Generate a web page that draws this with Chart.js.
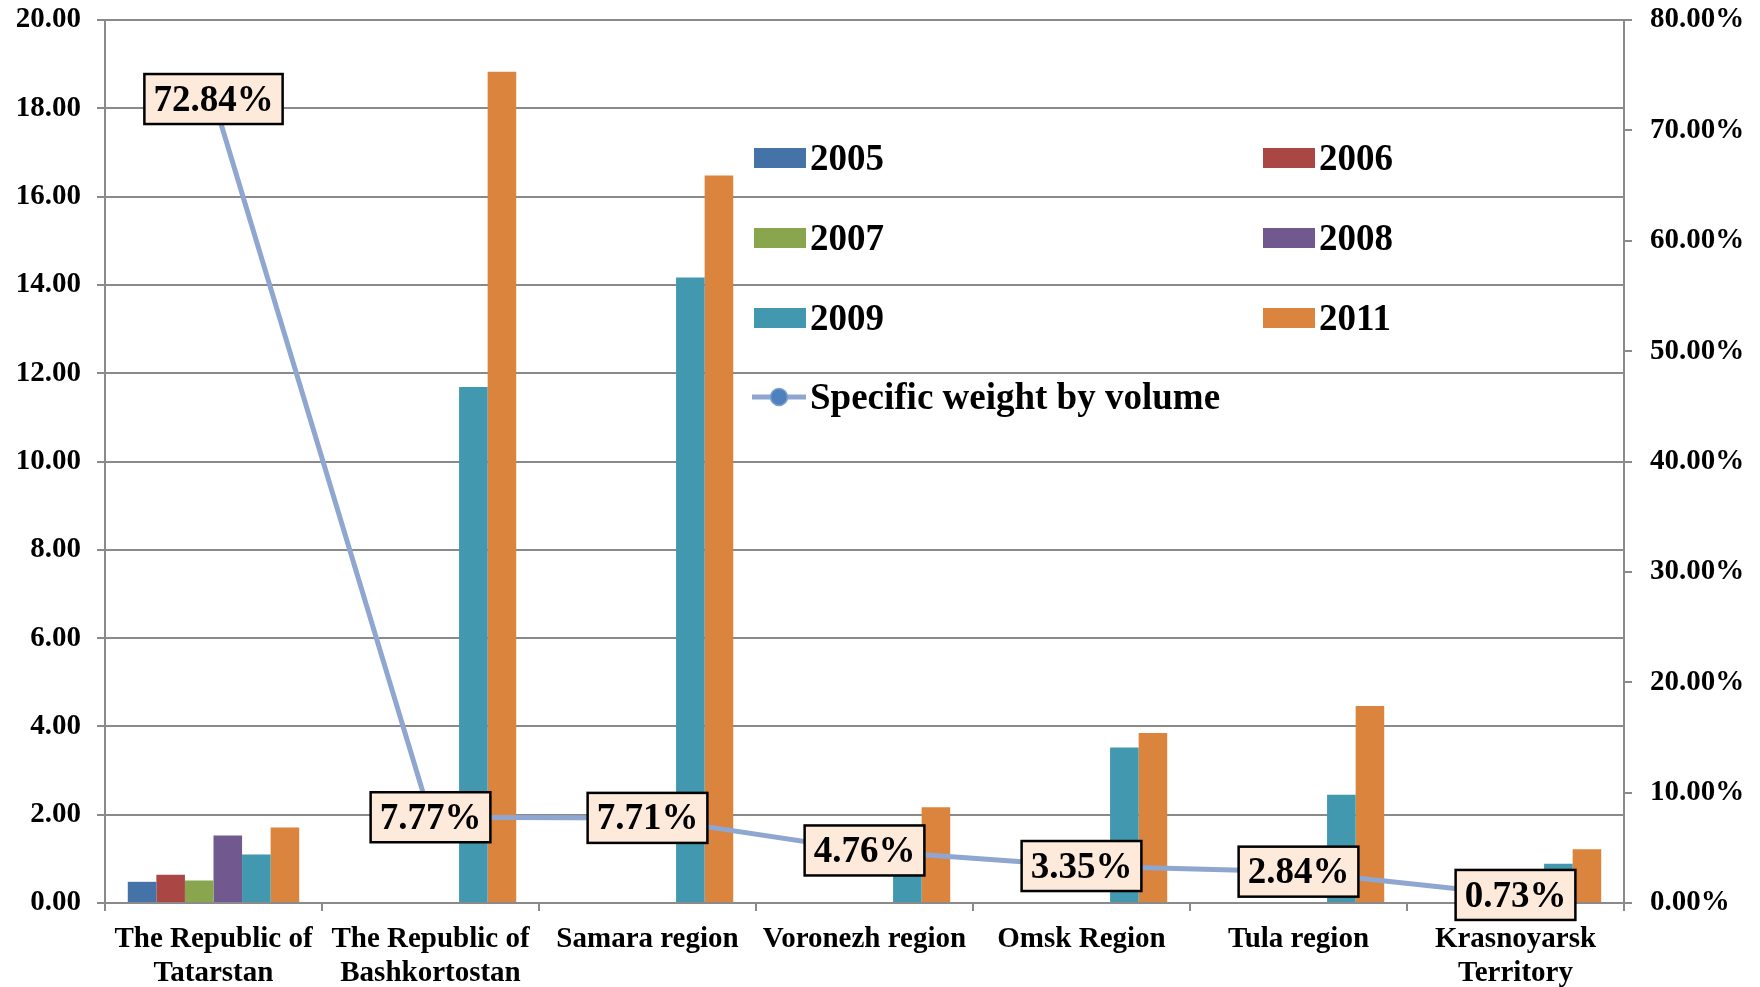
<!DOCTYPE html>
<html><head><meta charset="utf-8">
<script src="https://cdn.jsdelivr.net/npm/chart.js@4"></script>
<style>html,body{margin:0;padding:0;background:#fff}#wrap{width:1760px;height:987px;position:relative}</style>
</head><body><div id="wrap"><canvas id="c"></canvas></div>
<script>
const categories = [["The Republic of","Tatarstan"],["The Republic of","Bashkortostan"],"Samara region","Voronezh region","Omsk Region","Tula region",["Krasnoyarsk","Territory"]];
const seriesLabels = ["2005","2006","2007","2008","2009","2011"];
const v2005 = [0.48, null, null, null, null, null, null];
const v2006 = [0.64, null, null, null, null, null, null];
const v2007 = [0.51, null, null, null, null, null, null];
const v2008 = [1.53, null, null, null, null, null, null];
const v2009 = [1.10, 11.69, 14.17, 1.20, 3.52, 2.45, 0.89];
const v2011 = [1.71, 18.83, 16.48, 2.17, 3.85, 4.46, 1.22];
const lineLabel = "Specific weight by volume";
const specificWeight = [72.84, 7.77, 7.71, 4.76, 3.35, 2.84, 0.73];
const barColors = ["#4572A7","#AA4643","#89A54E","#71588F","#4198AF","#DB843D"];
const lineColor = "#8EA6D0";
const gridColor = "#8A8A8A";
const FONT = '"Liberation Serif","Times New Roman",serif';

const barValues = [v2005, v2006, v2007, v2008, v2009, v2011];
const datasets = barValues.map((vals, i) => ({
  type: 'bar', label: seriesLabels[i], data: vals, backgroundColor: barColors[i],
  yAxisID: 'y', order: 2, categoryPercentage: 0.79, barPercentage: 1.0
}));
datasets.push({
  type: 'line', label: lineLabel, data: specificWeight, yAxisID: 'y2',
  borderColor: lineColor, backgroundColor: '#4F81BD', borderWidth: 5,
  pointRadius: 0, tension: 0, order: 0
});

const legendPlugin = {
  id: 'gridLegend',
  afterDatasetsDraw(chart) {
    const ctx = chart.ctx;
    const cols = [754, 1263], rows = [158, 238, 318, 397];
    ctx.save();
    ctx.font = 'bold 37px ' + FONT;
    ctx.textBaseline = 'middle';
    ctx.textAlign = 'left';
    chart.data.datasets.forEach((ds, i) => {
      const x = cols[i % 2], y = rows[Math.floor(i / 2)];
      if (ds.type === 'bar') {
        ctx.fillStyle = ds.backgroundColor;
        ctx.fillRect(x, y - 10, 52, 20);
      } else {
        ctx.strokeStyle = ds.borderColor; ctx.lineWidth = 5;
        ctx.beginPath(); ctx.moveTo(x - 2, y); ctx.lineTo(x + 52, y); ctx.stroke();
        ctx.beginPath(); ctx.arc(x + 25, y, 8.5, 0, Math.PI * 2);
        ctx.fillStyle = '#4F81BD'; ctx.fill();
        ctx.lineWidth = 1.5; ctx.strokeStyle = '#7F9FCF'; ctx.stroke();
      }
      ctx.fillStyle = '#000';
      ctx.fillText(ds.label, x + 56, y + 2);
    });
    ctx.restore();
  }
};

const labelPlugin = {
  id: 'boxLabels',
  afterDatasetsDraw(chart) {
    const ctx = chart.ctx;
    const idx = chart.data.datasets.findIndex(d => d.type === 'line');
    const meta = chart.getDatasetMeta(idx);
    ctx.save();
    ctx.font = 'bold 37px ' + FONT;
    ctx.textBaseline = 'middle';
    ctx.textAlign = 'center';
    meta.data.forEach((pt, i) => {
      const txt = chart.data.datasets[idx].data[i].toFixed(2) + '%';
      const w = ctx.measureText(txt).width + 18, h = 50;
      ctx.fillStyle = '#FDEADA';
      ctx.fillRect(pt.x - w / 2, pt.y - h / 2, w, h);
      ctx.lineWidth = 2.5; ctx.strokeStyle = '#000';
      ctx.strokeRect(pt.x - w / 2, pt.y - h / 2, w, h);
      ctx.fillStyle = '#000';
      ctx.fillText(txt, pt.x, pt.y + 2);
    });
    ctx.restore();
  }
};

function fixV(w) {
  return function (s) { s.width = w; s.paddingTop = 0; s.paddingBottom = 0; };
}

new Chart(document.getElementById('c'), {
  data: { labels: categories, datasets },
  options: {
    responsive: true, maintainAspectRatio: false, animation: false,
    layout: { padding: { top: 20, left: 0, right: 0, bottom: 0 } },
    plugins: { legend: { display: false }, tooltip: { enabled: false } },
    scales: {
      x: {
        offset: true,
        grid: { offset: true, drawOnChartArea: false, drawTicks: true, tickLength: 8, color: gridColor, lineWidth: 2 },
        border: { display: true, color: gridColor, width: 2 },
        ticks: { color: '#000', padding: 12, maxRotation: 0, autoSkip: false, font: { family: FONT, weight: 'bold', size: 29, lineHeight: 1.17 } },
        afterFit(s) { s.height = 84; s.paddingLeft = 0; s.paddingRight = 0; }
      },
      y: {
        position: 'left', min: 0, max: 20,
        grid: { color: gridColor, lineWidth: 2, tickLength: 8 },
        border: { display: true, color: gridColor, width: 2 },
        ticks: { stepSize: 2, color: '#000', padding: 16, callback: v => v.toFixed(2), font: { family: FONT, weight: 'bold', size: 29 } },
        afterFit: fixV(105)
      },
      y2: {
        position: 'right', min: 0, max: 80,
        grid: { drawOnChartArea: false, color: gridColor, lineWidth: 2, tickLength: 8 },
        border: { display: true, color: gridColor, width: 2 },
        ticks: { stepSize: 10, color: '#000', padding: 18, callback: v => v.toFixed(2) + '%', font: { family: FONT, weight: 'bold', size: 29 } },
        afterFit: fixV(136)
      }
    }
  },
  plugins: [legendPlugin, labelPlugin]
});
</script></body></html>
